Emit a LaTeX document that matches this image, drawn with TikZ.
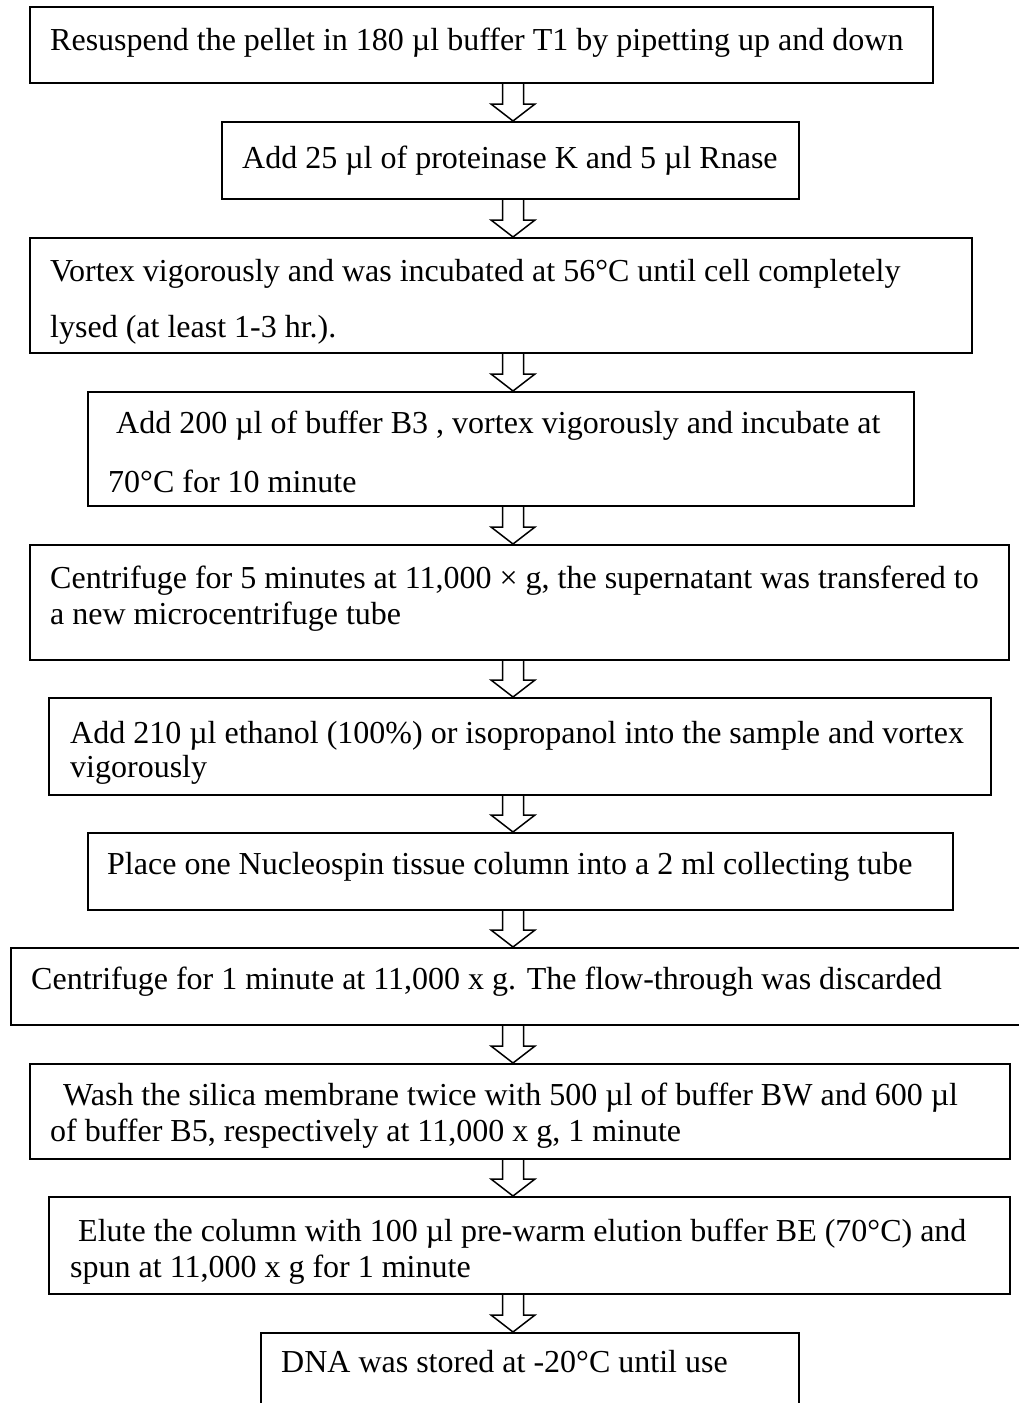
\documentclass[tikz,border=0pt]{standalone}
\usepackage{fontspec}
\setmainfont{Liberation Serif}
\usetikzlibrary{calc}
\begin{document}
\begin{tikzpicture}[x=1pt,y=-1pt,
  box/.style={draw, line width=1.5pt, inner sep=0pt, anchor=north west},
  txt/.style={anchor=base west, inner sep=0pt, font=\fontsize{32}{37}\selectfont},
  blockarrow/.style={draw, line width=1.5pt, line join=miter}]
\useasboundingbox (0,0) rectangle (1019,1403);
\fill[white] (0,0) rectangle (1019,1403);
\clip (0,0) rectangle (1019,1403);
\coordinate (ax) at (513,0);
% boxes
\node[box, minimum width=903pt, minimum height=76pt]  (b1)  at (29,6) {};
\node[box, minimum width=577pt, minimum height=77pt]  (b2)  at (221,121) {};
\node[box, minimum width=942pt, minimum height=115pt] (b3)  at (29,237) {};
\node[box, minimum width=826pt, minimum height=114pt] (b4)  at (87,391) {};
\node[box, minimum width=979pt, minimum height=115pt] (b5)  at (29,544) {};
\node[box, minimum width=942pt, minimum height=97pt]  (b6)  at (48,697) {};
\node[box, minimum width=865pt, minimum height=77pt]  (b7)  at (87,832) {};
\node[box, minimum width=1030pt, minimum height=77pt] (b8)  at (10,947) {};
\node[box, minimum width=980pt, minimum height=95pt]  (b9)  at (29,1063) {};
\node[box, minimum width=961pt, minimum height=97pt]  (b10) at (48,1196) {};
\node[box, minimum width=538pt, minimum height=100pt] (b11) at (260,1332) {};
% texts
\node[txt] (t1)  at (50,50)   {Resuspend the pellet in 180 µl buffer T1 by pipetting up and down};
\node[txt] (t2)  at (242,168) {Add 25 µl of proteinase K and 5 µl Rnase};
\node[txt] (t3a) at (50,281)  {Vortex vigorously and was incubated at 56°C until cell completely};
\node[txt] (t3b) at (50,337)  {lysed (at least 1-3 hr.).};
\node[txt] (t4a) at (116,433) {Add 200 µl of buffer B3 , vortex vigorously and incubate at};
\node[txt] (t4b) at (108,492) {70°C for 10 minute};
\node[txt] (t5a) at (50,588)  {Centrifuge for 5 minutes at 11,000 × g, the supernatant was transfered to};
\node[txt] (t5b) at (50,624)  {a new microcentrifuge tube};
\node[txt] (t6a) at (70,743)  {Add 210 µl ethanol (100\%) or isopropanol into the sample and vortex};
\node[txt] (t6b) at (70,777)  {vigorously};
\node[txt] (t7)  at (107,874) {Place one Nucleospin tissue column into a 2 ml collecting tube};
\node[txt] (t8)  at (31,989)  {Centrifuge for 1 minute at 11,000 x g. The flow-through was discarded};
\node[txt] (t9a) at (63,1105) {Wash the silica membrane twice with 500 µl of buffer BW and 600 µl};
\node[txt] (t9b) at (50,1141) {of buffer B5, respectively at 11,000 x g, 1 minute};
\node[txt] (t10a) at (78,1241) {Elute the column with 100 µl pre-warm elution buffer BE (70°C) and};
\node[txt] (t10b) at (70,1277) {spun at 11,000 x g for 1 minute};
\node[txt] (t11) at (281,1372) {DNA was stored at -20°C until use};
% block arrows
\foreach \a/\b in {b1/b2,b2/b3,b3/b4,b4/b5,b5/b6,b6/b7,b7/b8,b8/b9,b9/b10,b10/b11}{
  \draw[blockarrow] let \p1=(ax |- \a.south), \p2=(ax |- \b.north) in
    (\x1-10.5pt,\y1) -- (\x1-10.5pt,\y2+17pt) -- (\x1-22pt,\y2+17pt) -- (\x2,\y2)
    -- (\x1+22pt,\y2+17pt) -- (\x1+10.5pt,\y2+17pt) -- (\x1+10.5pt,\y1);
}
\end{tikzpicture}
\end{document}
